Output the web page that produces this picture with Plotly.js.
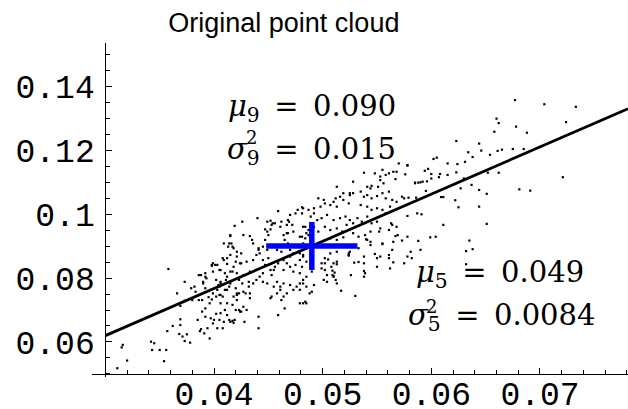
<!DOCTYPE html>
<html>
<head>
<meta charset="utf-8">
<script src="https://cdn.plot.ly/plotly-3.0.1.min.js"></script>
<style>
  html, body { margin: 0; padding: 0; background: #ffffff; }
  #chart { width: 628px; height: 409px; }
</style>
</head>
<body>
<div id="chart"></div>
<script>
// Scatter cloud: each entry is [x, y]
const cloud = [
  // upper right tail
  [0.0677,0.1356],[0.0704,0.1343],[0.0733,0.1335],[0.0660,0.1298],[0.0662,0.1284],[0.0678,0.1273],
  [0.0658,0.1257],[0.0688,0.1254],[0.0724,0.1287],[0.0623,0.1228],[0.0644,0.1220],[0.0634,0.1193],
  [0.0646,0.1198],[0.0654,0.1185],[0.0661,0.1197],[0.0665,0.1201],[0.0675,0.1203],[0.0685,0.1203],
  [0.0638,0.1178],[0.0631,0.1163],[0.0615,0.1158],[0.0624,0.1156],[0.0602,0.1172],[0.0605,0.1176],
  [0.0578,0.1151],[0.0597,0.1141],[0.0594,0.1135],[0.0576,0.1124],[0.0615,0.1122],[0.0623,0.1130],
  [0.0607,0.1115],[0.0600,0.1111],[0.0630,0.1111],[0.0652,0.1129],[0.0662,0.1129],[0.0585,0.1098],
  [0.0588,0.1098],[0.0590,0.1099],[0.0592,0.1101],[0.0596,0.1102],[0.0595,0.1072],[0.0627,0.1080],
  [0.0637,0.1091],[0.0644,0.1075],[0.0651,0.1063],[0.0681,0.1077],[0.0691,0.1073],[0.0721,0.1115],
  [0.0622,0.1043],[0.0609,0.1053],[0.0611,0.1053],[0.0586,0.1051],[0.0573,0.1054],[0.0579,0.1051],
  // lower right
  [0.0540,0.0921],[0.0544,0.0913],[0.0555,0.0906],[0.0552,0.0945],[0.0567,0.0931],[0.0569,0.0934],
  [0.0573,0.0917],[0.0588,0.0916],[0.0599,0.0927],[0.0604,0.0929],[0.0590,0.0888],[0.0635,0.0917],
  [0.0638,0.0890],[0.0632,0.0884],[0.0632,0.0843],[0.0564,0.0888],[0.0548,0.0875],[0.0553,0.0867],
  [0.0561,0.0862],[0.0565,0.0849],[0.0575,0.0846],[0.0582,0.0862],[0.0524,0.0877],[0.0524,0.0870],
  [0.0529,0.0848],[0.0533,0.0850],[0.0526,0.0809],[0.0538,0.0822],[0.0539,0.0815],[0.0530,0.0744],
  [0.0517,0.0760],[0.0513,0.0783],[0.0512,0.0794],[0.0509,0.0809],[0.0504,0.0788],[0.0501,0.0794],
  [0.0499,0.0846],[0.0502,0.0846],[0.0510,0.0846],[0.0513,0.0843],[0.0502,0.0862],[0.0505,0.0858],
  [0.0509,0.0823],[0.0511,0.0817],[0.0625,0.1021],[0.0644,0.1023],[0.0651,0.0969],[0.0611,0.0966],
  [0.0591,0.0999],[0.0578,0.0994],[0.0563,0.0971],[0.0564,0.0966],[0.0482,0.0721],[0.0485,0.0721],
  [0.0490,0.0757],[0.0502,0.0825],[0.0510,0.0804],
  // lower left tail
  [0.0311,0.0518],[0.0320,0.0542],[0.0315,0.0583],[0.0316,0.0591],[0.0342,0.0601],[0.0345,0.0596],
  [0.0343,0.0575],[0.0350,0.0575],[0.0356,0.0575],[0.0354,0.0540],[0.0357,0.0634],[0.0362,0.0650],
  [0.0369,0.0671],[0.0369,0.0653],[0.0368,0.0625],[0.0371,0.0617],[0.0375,0.0624],[0.0373,0.0603],
  [0.0378,0.0598],[0.0366,0.0752],[0.0358,0.0828],[0.0369,0.0713],[0.0373,0.0788],[0.0373,0.0729],
  [0.0379,0.0768],[0.0382,0.0773],[0.0383,0.0757],[0.0380,0.0731],[0.0386,0.0731],[0.0389,0.0731],
  [0.0386,0.0809],[0.0388,0.0809],[0.0392,0.0804],[0.0390,0.0783],[0.0392,0.0768],[0.0389,0.0695],
  [0.0392,0.0705],[0.0392,0.0679],[0.0385,0.0669],[0.0388,0.0640],[0.0387,0.0634],[0.0391,0.0627],
  [0.0396,0.0611],[0.0394,0.0643],[0.0397,0.0674],[0.0400,0.0669],[0.0396,0.0721],[0.0398,0.0733],
  [0.0395,0.0740],[0.0398,0.0841],[0.0401,0.0841],[0.0403,0.0841],[0.0399,0.0820],[0.0405,0.0825],
  [0.0402,0.0794],[0.0405,0.0773],[0.0406,0.0783],[0.0403,0.0763],[0.0405,0.0747],[0.0402,0.0742],
  [0.0406,0.0721],[0.0408,0.0742],[0.0402,0.0688],[0.0406,0.0690],[0.0405,0.0669],[0.0409,0.0663],
  [0.0403,0.0643],[0.0408,0.0643],[0.0410,0.0700],[0.0410,0.0763],[0.0412,0.0763],[0.0412,0.0721],
  [0.0414,0.0773],[0.0415,0.0783],[0.0411,0.0794],[0.0412,0.0804],[0.0415,0.0820],[0.0417,0.0820],
  [0.0414,0.0669],[0.0417,0.0666],[0.0417,0.0716],[0.0420,0.0700],[0.0423,0.0700],[0.0425,0.0695],
  [0.0421,0.0731],[0.0423,0.0752],[0.0420,0.0768],[0.0423,0.0794],[0.0421,0.0882],[0.0425,0.0877],
  [0.0421,0.0867],[0.0425,0.0846],[0.0418,0.0835],[0.0420,0.0851],[0.0409,0.0908],[0.0414,0.0908],
  [0.0417,0.0898],[0.0408,0.0862],[0.0409,0.0856],[0.0412,0.0844],[0.0415,0.0872],[0.0426,0.0783],
  [0.0399,0.0658],[0.0418,0.0660],[0.0428,0.0663],
  // core, left of centre
  [0.0426,0.0976],[0.0419,0.0963],[0.0440,0.0987],[0.0459,0.1009],[0.0452,0.0979],[0.0454,0.0971],
  [0.0477,0.1013],[0.0481,0.1021],[0.0475,0.1002],[0.0470,0.0997],[0.0468,0.0981],[0.0467,0.0966],
  [0.0462,0.0976],[0.0461,0.0960],[0.0447,0.0952],[0.0449,0.0945],[0.0450,0.0934],[0.0433,0.0931],
  [0.0435,0.0919],[0.0436,0.0908],[0.0427,0.0934],[0.0415,0.0931],[0.0416,0.0908],[0.0413,0.0898],
  [0.0418,0.0893],[0.0412,0.0862],[0.0399,0.0846],[0.0398,0.0838],[0.0392,0.0815],[0.0393,0.0799],
  [0.0390,0.0788],[0.0406,0.0788],[0.0404,0.0778],[0.0399,0.0752],[0.0406,0.0747],[0.0427,0.0757],
  [0.0433,0.0752],[0.0432,0.0788],[0.0421,0.0815],[0.0427,0.0809],[0.0433,0.0820],[0.0424,0.0846],
  [0.0430,0.0851],[0.0436,0.0856],[0.0439,0.0872],[0.0442,0.0877],[0.0441,0.0888],[0.0445,0.0856],
  [0.0447,0.0841],[0.0450,0.0862],[0.0452,0.0825],[0.0456,0.0835],[0.0453,0.0809],[0.0442,0.0804],
  [0.0445,0.0788],[0.0449,0.0783],[0.0458,0.0788],[0.0461,0.0773],[0.0464,0.0783],[0.0464,0.0856],
  [0.0467,0.0846],[0.0470,0.0867],[0.0470,0.0835],[0.0475,0.0841],[0.0473,0.0820],[0.0458,0.0888],
  [0.0462,0.0882],[0.0461,0.0903],[0.0479,0.0856],[0.0482,0.0872],[0.0478,0.0882],[0.0482,0.0908],
  [0.0485,0.0893],[0.0481,0.0929],[0.0485,0.0940],[0.0488,0.0950],[0.0484,0.0960],[0.0464,0.0934],
  [0.0468,0.0940],[0.0465,0.0919],[0.0470,0.0778],[0.0476,0.0773],[0.0479,0.0783],[0.0482,0.0794],
  [0.0485,0.0773],[0.0488,0.0752],[0.0453,0.0742],[0.0458,0.0752],[0.0464,0.0742],[0.0418,0.0742],
  [0.0421,0.0752],[0.0406,0.0825],[0.0410,0.0815],
  // core, right of centre
  [0.0570,0.1158],[0.0578,0.1153],[0.0555,0.1138],[0.0561,0.1127],[0.0565,0.1132],[0.0568,0.1132],
  [0.0538,0.1129],[0.0528,0.1101],[0.0553,0.1106],[0.0556,0.1096],[0.0567,0.1109],[0.0541,0.1085],
  [0.0544,0.1080],[0.0545,0.1088],[0.0551,0.1085],[0.0585,0.1096],[0.0528,0.1065],[0.0535,0.1070],
  [0.0538,0.1054],[0.0541,0.1059],[0.0545,0.1049],[0.0550,0.1056],[0.0555,0.1065],[0.0558,0.1049],
  [0.0561,0.1070],[0.0564,0.1044],[0.0568,0.1038],[0.0575,0.1049],[0.0516,0.1054],[0.0519,0.1044],
  [0.0524,0.1033],[0.0525,0.1059],[0.0510,0.1038],[0.0513,0.1023],[0.0507,0.1028],[0.0501,0.1044],
  [0.0502,0.1033],[0.0498,0.1023],[0.0535,0.1028],[0.0541,0.1023],[0.0545,0.1013],[0.0550,0.1018],
  [0.0555,0.1013],[0.0558,0.1002],[0.0562,0.1023],[0.0492,0.1018],[0.0487,0.1013],[0.0482,0.1018],
  [0.0481,0.1002],[0.0489,0.0992],[0.0495,0.0981],[0.0499,0.0987],[0.0504,0.0997],[0.0510,0.0981],
  [0.0516,0.0987],[0.0521,0.0992],[0.0525,0.0981],[0.0528,0.0971],[0.0532,0.0987],[0.0536,0.0976],
  [0.0541,0.0992],[0.0545,0.0971],[0.0550,0.0976],[0.0553,0.0955],[0.0561,0.0950],[0.0568,0.0960],
  [0.0587,0.1002],[0.0482,0.0960],[0.0487,0.0950],[0.0492,0.0960],[0.0496,0.0945],[0.0502,0.0960],
  [0.0507,0.0950],[0.0513,0.0955],[0.0518,0.0945],[0.0522,0.0966],[0.0528,0.0940],[0.0533,0.0929],
  [0.0539,0.0934],[0.0544,0.0945],[0.0479,0.0929],[0.0484,0.0924],[0.0487,0.0934],[0.0507,0.0924],
  [0.0513,0.0919],[0.0519,0.0927],[0.0528,0.0898],[0.0533,0.0893],[0.0541,0.0919],[0.0544,0.0903],
  [0.0555,0.0908],[0.0565,0.0913],[0.0578,0.0929],[0.0507,0.0877],[0.0513,0.0882],[0.0524,0.0872],
  [0.0525,0.0882],[0.0538,0.0867],[0.0550,0.0862],[0.0561,0.0872],[0.0508,0.0835],[0.0513,0.0851],
  [0.0499,0.0830],[0.0538,0.0846],[0.0550,0.0835],[0.0562,0.0830],[0.0504,0.0809],[0.0510,0.0806],
  [0.0538,0.0804],[0.0578,0.0867],[0.0581,0.0882],
  [0.0608,0.1125],[0.0600,0.1125],[0.0558,0.1122],[0.0553,0.1117],[0.0548,0.1127],[0.0513,0.1085],
  [0.0519,0.1065],[0.0525,0.1065],[0.0496,0.1049],[0.0512,0.1049],
  // core, around the mean
  [0.0415,0.0934],[0.0449,0.0976],[0.0453,0.0966],[0.0456,0.0971],[0.0452,0.0952],[0.0469,0.0976],
  [0.0472,0.0966],[0.0473,0.0945],[0.0467,0.0940],[0.0492,0.1002],[0.0447,0.0919],[0.0445,0.0898],
  [0.0449,0.0888],[0.0441,0.0893],[0.0468,0.0908],[0.0475,0.0898],[0.0473,0.0877],[0.0470,0.0888],
  [0.0479,0.0877],[0.0482,0.0867],[0.0485,0.0851],[0.0481,0.0835],[0.0492,0.0778],[0.0484,0.0726],
  [0.0479,0.0721],[0.0473,0.0763],[0.0467,0.0752],[0.0465,0.0705],[0.0459,0.0684],[0.0452,0.0737],
  [0.0462,0.0731],[0.0455,0.0773],[0.0461,0.0763],[0.0441,0.0679],[0.0441,0.0643],[0.0430,0.0700],
  [0.0424,0.0695],[0.0427,0.0710],[0.0419,0.0669],[0.0415,0.0663],[0.0412,0.0684],[0.0432,0.0773],
  [0.0436,0.0783],[0.0439,0.0794],[0.0445,0.0815],[0.0438,0.0825],[0.0429,0.0752],[0.0433,0.0737],
  [0.0421,0.0747],[0.0455,0.0825],[0.0459,0.0846],[0.0464,0.0825],[0.0479,0.0815],[0.0485,0.0804],
  [0.0490,0.0820],[0.0482,0.0783],[0.0479,0.0763]
];
const cloudX = cloud.map(p => p[0]);
const cloudY = cloud.map(p => p[1]);

// Summary statistics of the two components
const mu5 = 0.049, var5 = 0.0084;   // horizontal component
const mu9 = 0.090, var9 = 0.015;    // vertical component

// Least-squares line through the mean
const fitSlope = 1.474;
const fitX = [0.03, 0.0781];
const fitY = fitX.map(x => mu9 + fitSlope * (x - mu5));

// Axis ticks
const xTickVals = [0.04, 0.05, 0.06, 0.07];
const xTickText = ['0.04', '0.05', '0.06', '0.07'];
const yTickVals = [0.06, 0.08, 0.1, 0.12, 0.14];
const yTickText = ['0.06', '0.08', '0.1', '0.12', '0.14'];

const BLUE = '#0000ff';
const MONO = 'Liberation Mono, Courier New, monospace';
const SERIF = 'DejaVu Serif, serif';

const traces = [
  {
    type: 'scatter', mode: 'markers', x: cloudX, y: cloudY,
    marker: { color: '#000', size: 2.2, symbol: 'square', line: { width: 0 } },
    hoverinfo: 'skip'
  },
  {
    type: 'scatter', mode: 'lines', x: fitX, y: fitY,
    line: { color: '#000', width: 2.8 }, hoverinfo: 'skip'
  },
  {
    type: 'scatter', mode: 'lines',
    x: [mu5 - var5 / 2, mu5 + var5 / 2], y: [mu9, mu9],
    line: { color: BLUE, width: 5.5 }, hoverinfo: 'skip'
  },
  {
    type: 'scatter', mode: 'lines',
    x: [mu5, mu5], y: [mu9 - var9 / 2, mu9 + var9 / 2],
    line: { color: BLUE, width: 5.5 }, hoverinfo: 'skip'
  }
];

const axisCommon = {
  showline: true, linecolor: '#000', linewidth: 1,
  showgrid: false, zeroline: false,
  ticks: 'inside', ticklen: 6, tickwidth: 1, tickcolor: '#000',
  tickmode: 'array',
  tickfont: { family: MONO, size: 33, color: '#000' },
  anchor: 'free', fixedrange: true
};

const mathFont = { family: SERIF, size: 29, color: '#000' };
const supFont = { family: SERIF, size: 18, color: '#000' };

const layout = {
  width: 628, height: 409,
  margin: { l: 92, r: 0, t: 43, b: 32, pad: 0 },
  paper_bgcolor: '#ffffff', plot_bgcolor: '#ffffff',
  showlegend: false,
  title: {
    text: 'Original point cloud',
    font: { family: 'Liberation Sans, Arial, sans-serif', size: 27, color: '#000' },
    xref: 'container', x: 0.452, xanchor: 'center',
    yref: 'container', y: 0.946, yanchor: 'middle'
  },
  xaxis: Object.assign({}, axisCommon, {
    range: [0.02877, 0.0781], position: 0.009,
    tickvals: xTickVals, ticktext: xTickText, ticklabelstandoff: -10,
    minor: { tick0: 0.03, dtick: 0.002, ticks: 'inside', ticklen: 4, tickwidth: 1, tickcolor: '#000', showgrid: false }
  }),
  yaxis: Object.assign({}, axisCommon, {
    range: [0.04906, 0.15344], position: 0.0249,
    tickvals: yTickVals, ticktext: yTickText, ticklabelstandoff: 4,
    minor: { tick0: 0.05, dtick: 0.005, ticks: 'inside', ticklen: 4, tickwidth: 1, tickcolor: '#000', showgrid: false }
  }),
  annotations: [
    { xref: 'paper', yref: 'paper', x: 0.4104, y: 0.8054, xanchor: 'center', yanchor: 'middle', showarrow: false,
      text: '<i>μ</i><sub>9</sub>\u2002=\u2002' + mu9.toFixed(3), font: mathFont },
    { xref: 'paper', yref: 'paper', x: 0.4104, y: 0.6766, xanchor: 'center', yanchor: 'middle', showarrow: false,
      text: '<i>σ</i><sub>9</sub>\u2002=\u2002' + var9.toFixed(3), font: mathFont },
    { xref: 'paper', yref: 'paper', x: 0.2985, y: 0.7185, xanchor: 'center', yanchor: 'middle', showarrow: false,
      text: '2', font: supFont },
    { xref: 'paper', yref: 'paper', x: 0.7612, y: 0.3084, xanchor: 'center', yanchor: 'middle', showarrow: false,
      text: '<i>μ</i><sub>5</sub>\u2002=\u2002' + mu5.toFixed(3), font: mathFont },
    { xref: 'paper', yref: 'paper', x: 0.7631, y: 0.1796, xanchor: 'center', yanchor: 'middle', showarrow: false,
      text: '<i>σ</i><sub>5</sub>\u2002=\u2002' + var5.toFixed(4), font: mathFont },
    { xref: 'paper', yref: 'paper', x: 0.6325, y: 0.2096, xanchor: 'center', yanchor: 'middle', showarrow: false,
      text: '2', font: supFont }
  ]
};

Plotly.newPlot('chart', traces, layout, { staticPlot: true, displayModeBar: false });
</script>
</body>
</html>
